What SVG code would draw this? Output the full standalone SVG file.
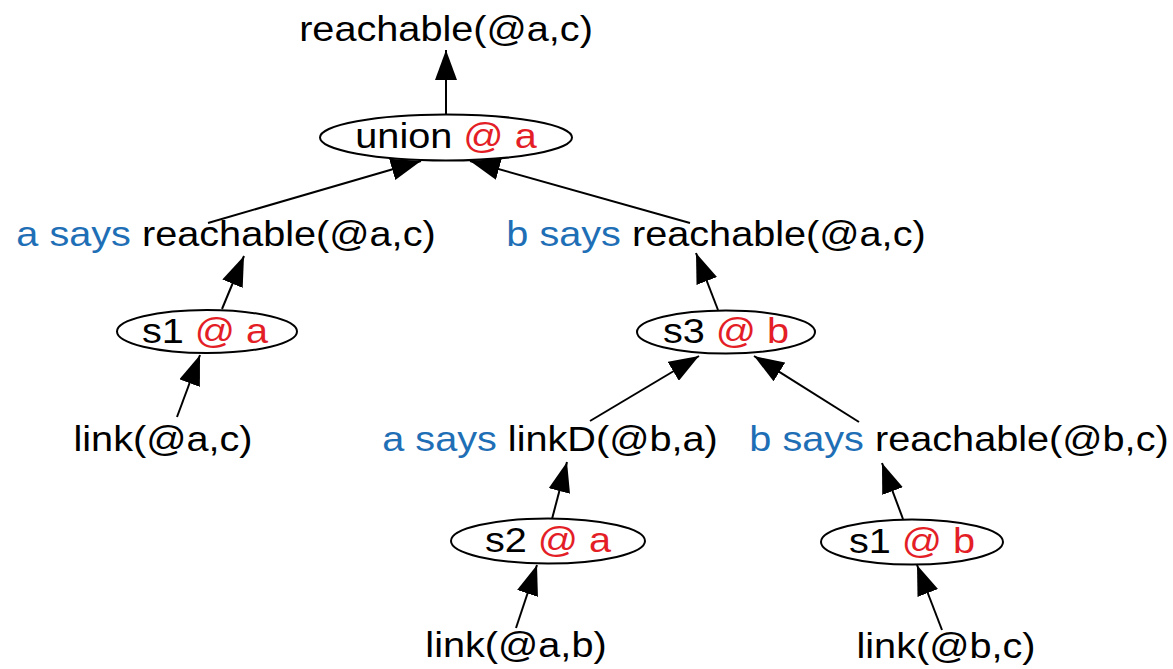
<svg xmlns="http://www.w3.org/2000/svg" width="1173" height="669" viewBox="0 0 1173 669">
  <style>
    .t { font-family: "Liberation Sans", Arial, sans-serif; font-size: 34.5px; fill: #000; text-anchor: middle; }
    .who { fill: #1f6fb6; }
    .at { fill: #e41e26; }
    .rule { fill: #fff; stroke: #000; stroke-width: 2; }
    .edge { stroke: #000; stroke-width: 2; fill: none; marker-end: url(#arrow); }
  </style>
  <defs>
    <marker id="arrow" markerUnits="userSpaceOnUse" markerWidth="30" markerHeight="22" refX="30" refY="11" orient="auto">
      <path d="M0,0 L30,11 L0,22 z" fill="#000"/>
    </marker>
  </defs>
  <rect width="1173" height="669" fill="#fff"/>

  <!-- derivation edges, child to parent -->
  <g id="edges">
    <line class="edge" x1="446" y1="115" x2="446" y2="50"/>
    <line class="edge" x1="208" y1="223" x2="421" y2="161"/>
    <line class="edge" x1="690" y1="223" x2="470" y2="161"/>
    <line class="edge" x1="222" y1="309" x2="244" y2="256"/>
    <line class="edge" x1="177" y1="417" x2="200" y2="355"/>
    <line class="edge" x1="718" y1="310" x2="696" y2="253"/>
    <line class="edge" x1="590" y1="421" x2="699" y2="356"/>
    <line class="edge" x1="859" y1="422" x2="754" y2="356"/>
    <line class="edge" x1="552" y1="519" x2="567" y2="462"/>
    <line class="edge" x1="516" y1="628" x2="537" y2="565"/>
    <line class="edge" x1="903" y1="519" x2="882" y2="463"/>
    <line class="edge" x1="942" y1="630" x2="917" y2="565"/>
  </g>

  <!-- tuples -->
  <g id="n-reachable-ac">
    <text class="t" transform="translate(446,41) scale(1.15,1)">reachable(@a,c)</text>
  </g>
  <g id="n-a-says-reachable-ac">
    <text class="t" transform="translate(226,246) scale(1.15,1)"><tspan class="who">a says</tspan> reachable(@a,c)</text>
  </g>
  <g id="n-b-says-reachable-ac">
    <text class="t" transform="translate(716,246) scale(1.15,1)"><tspan class="who">b says</tspan> reachable(@a,c)</text>
  </g>
  <g id="n-link-ac">
    <text class="t" transform="translate(163,451) scale(1.15,1)">link(@a,c)</text>
  </g>
  <g id="n-a-says-linkD-ba">
    <text class="t" transform="translate(550,451) scale(1.15,1)"><tspan class="who">a says</tspan> linkD(@b,a)</text>
  </g>
  <g id="n-b-says-reachable-bc">
    <text class="t" transform="translate(959,451) scale(1.15,1)"><tspan class="who">b says</tspan> reachable(@b,c)</text>
  </g>
  <g id="n-link-ab">
    <text class="t" transform="translate(516,657) scale(1.15,1)">link(@a,b)</text>
  </g>
  <g id="n-link-bc">
    <text class="t" transform="translate(946,658) scale(1.15,1)">link(@b,c)</text>
  </g>

  <!-- rule executions -->
  <g id="r-union-a">
    <ellipse class="rule" cx="446" cy="137.5" rx="126" ry="23"/>
    <text class="t" transform="translate(446,148) scale(1.15,1)">union <tspan class="at">@ a</tspan></text>
  </g>
  <g id="r-s1-a">
    <ellipse class="rule" cx="207" cy="331.5" rx="90" ry="21.5"/>
    <text class="t" transform="translate(205,343) scale(1.15,1)">s1 <tspan class="at">@ a</tspan></text>
  </g>
  <g id="r-s3-b">
    <ellipse class="rule" cx="726" cy="332" rx="89" ry="21.5"/>
    <text class="t" transform="translate(726,343) scale(1.15,1)">s3 <tspan class="at">@ b</tspan></text>
  </g>
  <g id="r-s2-a">
    <ellipse class="rule" cx="548" cy="541" rx="97" ry="22.5"/>
    <text class="t" transform="translate(548,552) scale(1.15,1)">s2 <tspan class="at">@ a</tspan></text>
  </g>
  <g id="r-s1-b">
    <ellipse class="rule" cx="912" cy="542" rx="91" ry="22.5"/>
    <text class="t" transform="translate(912,553) scale(1.15,1)">s1 <tspan class="at">@ b</tspan></text>
  </g>
</svg>
